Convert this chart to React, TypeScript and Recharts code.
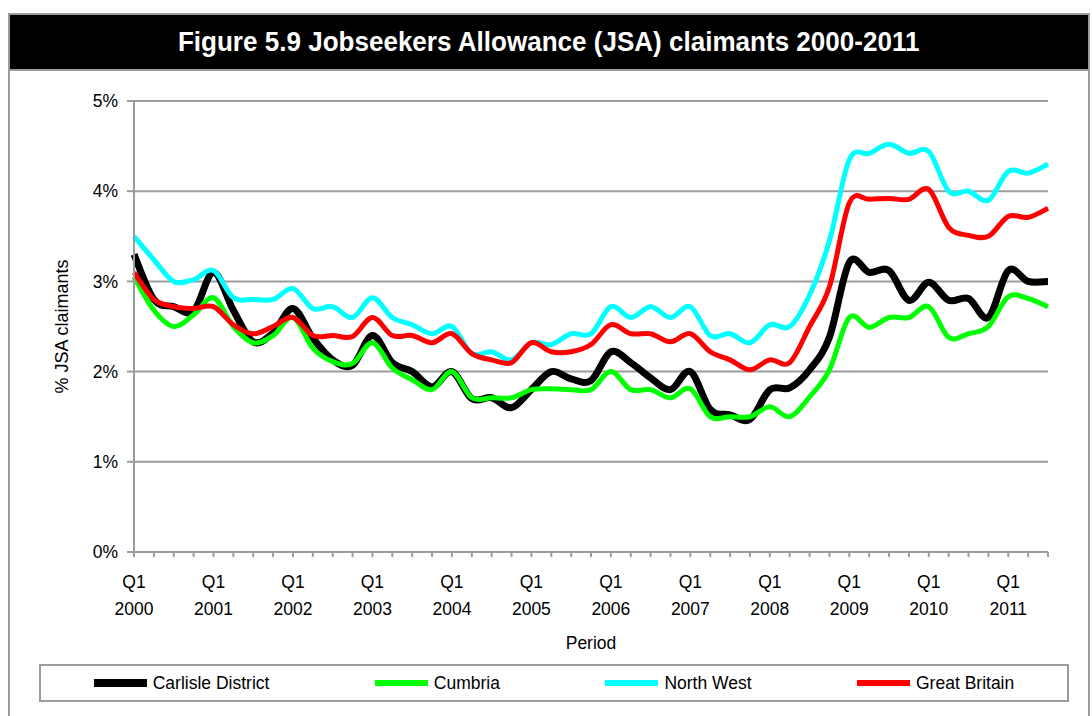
import { LineChart, Line, XAxis, YAxis, CartesianGrid } from "recharts";

// quarterly periods, Q1 2000 - Q3 2011
const periods = [
  "Q1 2000", "Q2 2000", "Q3 2000", "Q4 2000",
  "Q1 2001", "Q2 2001", "Q3 2001", "Q4 2001",
  "Q1 2002", "Q2 2002", "Q3 2002", "Q4 2002",
  "Q1 2003", "Q2 2003", "Q3 2003", "Q4 2003",
  "Q1 2004", "Q2 2004", "Q3 2004", "Q4 2004",
  "Q1 2005", "Q2 2005", "Q3 2005", "Q4 2005",
  "Q1 2006", "Q2 2006", "Q3 2006", "Q4 2006",
  "Q1 2007", "Q2 2007", "Q3 2007", "Q4 2007",
  "Q1 2008", "Q2 2008", "Q3 2008", "Q4 2008",
  "Q1 2009", "Q2 2009", "Q3 2009", "Q4 2009",
  "Q1 2010", "Q2 2010", "Q3 2010", "Q4 2010",
  "Q1 2011", "Q2 2011", "Q3 2011",
];

const carlisle = [
  3.3, 2.8, 2.72, 2.67, 3.1, 2.68, 2.33, 2.43, 2.7, 2.37, 2.13, 2.07,
  2.4, 2.1, 2.0, 1.83, 2.0, 1.7, 1.71, 1.6, 1.8, 2.0, 1.92, 1.9,
  2.22, 2.1, 1.93, 1.8, 2.0, 1.58, 1.52, 1.47, 1.8, 1.82, 2.02, 2.38,
  3.21, 3.1, 3.12, 2.79, 2.99, 2.79, 2.81, 2.6, 3.12, 3.0, 3.0,
];

const cumbria = [
  3.05, 2.68, 2.5, 2.63, 2.82, 2.5, 2.32, 2.4, 2.6, 2.26, 2.11, 2.09,
  2.32, 2.04, 1.91, 1.8, 2.0, 1.71, 1.71, 1.71, 1.8, 1.81, 1.8, 1.8,
  2.0, 1.8, 1.8, 1.71, 1.81, 1.5, 1.5, 1.5, 1.61, 1.5, 1.72, 2.02,
  2.6, 2.49, 2.6, 2.6, 2.72, 2.38, 2.42, 2.5, 2.83, 2.81, 2.72,
];

const northWest = [
  3.5, 3.24, 3.0, 3.02, 3.12, 2.82, 2.8, 2.8, 2.92, 2.7, 2.72, 2.6,
  2.82, 2.6, 2.52, 2.42, 2.5, 2.2, 2.22, 2.13, 2.32, 2.3, 2.42, 2.42,
  2.72, 2.6, 2.72, 2.6, 2.72, 2.4, 2.42, 2.32, 2.52, 2.5, 2.85, 3.45,
  4.35, 4.42, 4.52, 4.42, 4.44, 4.0, 4.0, 3.9, 4.22, 4.2, 4.3,
];

const greatBritain = [
  3.1, 2.8, 2.72, 2.7, 2.72, 2.52, 2.42, 2.5, 2.6, 2.4, 2.4, 2.39,
  2.6, 2.4, 2.4, 2.32, 2.42, 2.2, 2.13, 2.1, 2.32, 2.22, 2.22, 2.3,
  2.52, 2.42, 2.42, 2.33, 2.42, 2.22, 2.13, 2.02, 2.13, 2.1, 2.5, 2.94,
  3.87, 3.91, 3.92, 3.91, 4.02, 3.6, 3.51, 3.5, 3.72, 3.71, 3.81,
];

const yTicks = [0, 1, 2, 3, 4, 5];

const SERIES = [
  { key: "carlisle", name: "Carlisle District", color: "#000000", width: 7 },
  { key: "cumbria", name: "Cumbria", color: "#00ff00", width: 5 },
  { key: "northWest", name: "North West", color: "#00ffff", width: 5 },
  { key: "greatBritain", name: "Great Britain", color: "#ff0000", width: 5 },
];

const data = periods.map((p, i) => ({
  period: p,
  carlisle: carlisle[i],
  cumbria: cumbria[i],
  northWest: northWest[i],
  greatBritain: greatBritain[i],
}));

const FONT = '"Liberation Sans", Arial, sans-serif';
const GREY = "#9c9c9c";
const W = 1092;
const H = 716;

// plot area edges
const PLOT_LEFT = 134;
const PLOT_RIGHT = 1048;
const PLOT_TOP = 101;
const PLOT_BOTTOM = 552;
const Y_AXIS_W = 120;
const X_AXIS_H = 100;

// Excel-like "smoothed line": catmull-rom style bezier through every point
function smoothCurve(context: any) {
  let pts: number[][] = [];
  return {
    areaStart() {},
    areaEnd() {},
    lineStart() {
      pts = [];
    },
    point(x: number, y: number) {
      pts.push([+x, +y]);
    },
    lineEnd() {
      const n = pts.length;
      if (!n) return;
      context.moveTo(pts[0][0], pts[0][1]);
      for (let i = 0; i < n - 1; i++) {
        const p0 = pts[Math.max(0, i - 1)];
        const p1 = pts[i];
        const p2 = pts[i + 1];
        const p3 = pts[Math.min(n - 1, i + 2)];
        context.bezierCurveTo(
          p1[0] + (p2[0] - p0[0]) / 6,
          p1[1] + (p2[1] - p0[1]) / 6,
          p2[0] - (p3[0] - p1[0]) / 6,
          p2[1] - (p3[1] - p1[1]) / 6,
          p2[0],
          p2[1]
        );
      }
    },
  };
}

function PeriodTick(props: any) {
  const { x, y, payload } = props;
  if (payload.index % 4 !== 0) return <g />;
  const [q, year] = String(payload.value).split(" ");
  const style = { fontFamily: FONT, fontSize: 17.5, fill: "#000" };
  return (
    <g>
      <text x={x} y={y} dy="0.71em" textAnchor="middle" style={style}>
        {q}
      </text>
      <text x={x} y={y + 27} dy="0.71em" textAnchor="middle" style={style}>
        {year}
      </text>
    </g>
  );
}

export default function App() {
  return (
    <div
      style={{
        position: "absolute",
        left: 0,
        top: 0,
        width: W,
        height: H,
        background: "#fff",
        overflow: "hidden",
        fontFamily: FONT,
      }}
    >
      <div
        style={{
          position: "absolute",
          left: 8,
          top: 13,
          width: 1078,
          height: 720,
          border: `2px solid ${GREY}`,
        }}
      >
        <div
          style={{
            height: 54,
            background: "#000",
            color: "#fff",
            borderBottom: `2px solid ${GREY}`,
            fontWeight: "bold",
            fontSize: 28,
            lineHeight: "54px",
            textAlign: "center",
          }}
        >
          <span style={{ display: "inline-block", transform: "scaleX(0.93)" }}>
            Figure 5.9 Jobseekers Allowance (JSA) claimants 2000-2011
          </span>
        </div>
      </div>

      <LineChart
        width={W}
        height={H}
        data={data}
        style={{ position: "absolute", left: 0, top: 0 }}
        margin={{
          top: PLOT_TOP,
          right: W - PLOT_RIGHT,
          bottom: H - PLOT_BOTTOM - X_AXIS_H,
          left: PLOT_LEFT - Y_AXIS_W,
        }}
      >
        <CartesianGrid vertical={false} stroke={GREY} strokeWidth={2} />
        <XAxis
          dataKey="period"
          interval={0}
          height={X_AXIS_H}
          stroke={GREY}
          strokeWidth={2}
          tickSize={5}
          tickMargin={19}
          tick={(p: any) => <PeriodTick {...p} />}
          label={{
            content: () => (
              <text
                x={(PLOT_LEFT + PLOT_RIGHT) / 2}
                y={643}
                textAnchor="middle"
                dominantBaseline="central"
                style={{ fontFamily: FONT, fontSize: 17.5, fill: "#000" }}
              >
                Period
              </text>
            ),
          }}
        />
        <YAxis
          domain={[0, 5]}
          ticks={yTicks}
          width={Y_AXIS_W}
          stroke={GREY}
          strokeWidth={2}
          tickSize={7}
          tickMargin={9}
          tick={{ fontFamily: FONT, fontSize: 17.5, fill: "#000" }}
          tickFormatter={(v: number) => `${v}%`}
          label={{
            content: () => {
              const cx = 62;
              const cy = (PLOT_TOP + PLOT_BOTTOM) / 2;
              return (
                <text
                  x={cx}
                  y={cy}
                  transform={`rotate(-90, ${cx}, ${cy})`}
                  textAnchor="middle"
                  dominantBaseline="central"
                  style={{ fontFamily: FONT, fontSize: 18, fill: "#000" }}
                >
                  % JSA claimants
                </text>
              );
            },
          }}
        />
        {SERIES.map((s) => (
          <Line
            key={s.key}
            type={smoothCurve as any}
            dataKey={s.key}
            name={s.name}
            stroke={s.color}
            strokeWidth={s.width}
            strokeLinejoin="round"
            dot={false}
            activeDot={false}
            isAnimationActive={false}
          />
        ))}
      </LineChart>

      <div
        style={{
          position: "absolute",
          left: 39,
          top: 664,
          width: 1026,
          height: 34,
          border: `2px solid ${GREY}`,
          display: "flex",
          justifyContent: "space-around",
          alignItems: "center",
          fontSize: 17.5,
        }}
      >
        {SERIES.map((s) => (
          <div key={s.key} style={{ display: "flex", alignItems: "center" }}>
            <span
              style={{
                display: "inline-block",
                width: 53,
                height: s.width + 1,
                background: s.color,
                marginRight: 6,
              }}
            />
            <span>{s.name}</span>
          </div>
        ))}
      </div>
    </div>
  );
}
